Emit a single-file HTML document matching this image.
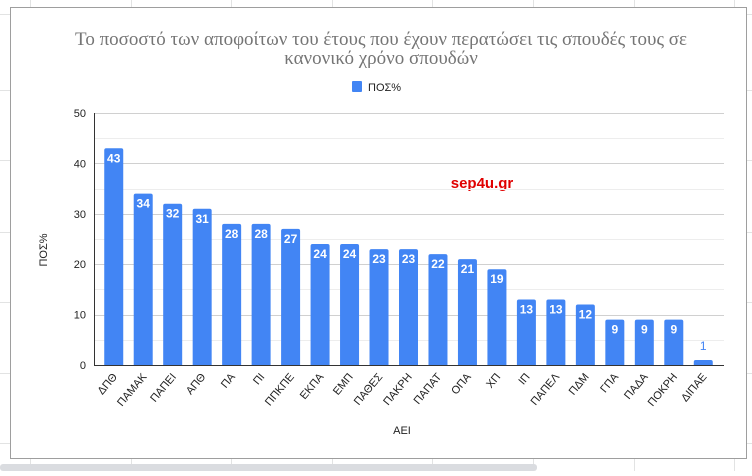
<!DOCTYPE html>
<html><head><meta charset="utf-8"><style>
body{margin:0;width:752px;height:471px;overflow:hidden;background:#fff;font-family:"Liberation Sans",sans-serif}
</style></head><body>
<svg id="c" width="752" height="471" xmlns="http://www.w3.org/2000/svg">
<g id="sheet" stroke="#e2e3e3" stroke-width="1"></g>
<rect x="10.5" y="7.5" width="736" height="451" fill="#fff" stroke="#9e9e9e"/>
<text x="381" y="45" text-anchor="middle" font-family="Liberation Serif,serif" font-size="19" fill="#757575">Το ποσοστό των αποφοίτων του έτους που έχουν περατώσει τις σπουδές τους σε</text>
<text x="381" y="64" text-anchor="middle" font-family="Liberation Serif,serif" font-size="19" fill="#757575">κανονικό χρόνο σπουδών</text>
<rect x="352" y="81" width="10" height="11" rx="1" fill="#4285f4"/>
<text x="368" y="91" font-size="11" fill="#222">ΠΟΣ%</text>
<text x="482" y="188" text-anchor="middle" font-size="15" font-weight="bold" fill="#e00000">sep4u.gr</text>
<g id="grid"></g><g id="bars"></g><g id="xl"></g>
<text x="402" y="434" text-anchor="middle" font-size="11" fill="#222">ΑΕΙ</text>
<text transform="translate(47,250) rotate(-90)" text-anchor="middle" font-size="11" fill="#222">ΠΟΣ%</text>
<rect x="0" y="464" width="537" height="7" rx="3" fill="#dadce0"/>
</svg>
<script>
const categories=["ΔΠΘ","ΠΑΜΑΚ","ΠΑΠΕΙ","ΑΠΘ","ΠΑ","ΠΙ","ΠΠΚΠΕ","ΕΚΠΑ","ΕΜΠ","ΠΑΘΕΣ","ΠΑΚΡΗ","ΠΑΠΑΤ","ΟΠΑ","ΧΠ","ΙΠ","ΠΑΠΕΛ","ΠΔΜ","ΓΠΑ","ΠΑΔΑ","ΠΟΚΡΗ","ΔΙΠΑΕ"];
const values=[43,34,32,31,28,28,27,24,24,23,23,22,21,19,13,13,12,9,9,9,1];
const yTicks=[0,10,20,30,40,50];
const NS="http://www.w3.org/2000/svg";
const X0=99,X1=718,Y0=365,Y1=113,YMAX=50;
const step=(X1-X0)/categories.length;
const y=v=>Y0-(v/YMAX)*(Y0-Y1);
const xc=i=>X0+step*(i+0.5);
function mk(t,a,p){const e=document.createElementNS(NS,t);for(const k in a)e.setAttribute(k,a[k]);p.appendChild(e);return e;}
const sh=document.getElementById('sheet');
[14,90,160,232,302,373,443].forEach(yy=>{const l=mk('line',{x1:0,x2:752,y1:yy+.5,y2:yy+.5},sh);});
[30,131,231,332,432,533,634,734].forEach(xx=>{mk('line',{x1:xx+.5,x2:xx+.5,y1:0,y2:471},sh);});
const g=document.getElementById('grid');
for(let v=5;v<=YMAX;v+=5){const l=mk('line',{x1:94,x2:724,y1:Math.round(y(v))+.5,y2:Math.round(y(v))+.5,stroke:v%10?'#ededed':'#d0d0d0'},g);

}
yTicks.forEach(v=>{const t=mk('text',{x:86,y:y(v)+4,'text-anchor':'end','font-size':11,fill:'#222'},g);t.textContent=v;

});
const ax=mk('line',{x1:94.5,x2:94.5,y1:Y1,y2:Y0,stroke:'#333'},g);


const bx=mk('line',{x1:94,x2:724,y1:Y0+.5,y2:Y0+.5,stroke:'#333'},g);


const b=document.getElementById('bars'),xl=document.getElementById('xl');
const bw=19;
values.forEach((v,i)=>{const top=y(v);
const r=mk('path',{d:`M${xc(i)-bw/2},${Y0}V${top+2}q0,-2 2,-2h${bw-4}q2,0 2,2V${Y0}Z`,fill:'#4285f4'},b);


const inside=v>3;
const t=mk('text',{x:xc(i),y:inside?top+14:top-10,'text-anchor':'middle','font-size':12,'font-weight':inside?'bold':'normal',fill:inside?'#fff':'#4285f4'},b);
t.textContent=v;


const lx=xc(i)+4,ly=Y0+12;
const c=mk('text',{x:lx,y:ly,'text-anchor':'end','font-size':11,fill:'#222',transform:`rotate(-50 ${lx} ${ly})`},xl);
c.textContent=categories[i];

});
</script>
</body></html>
